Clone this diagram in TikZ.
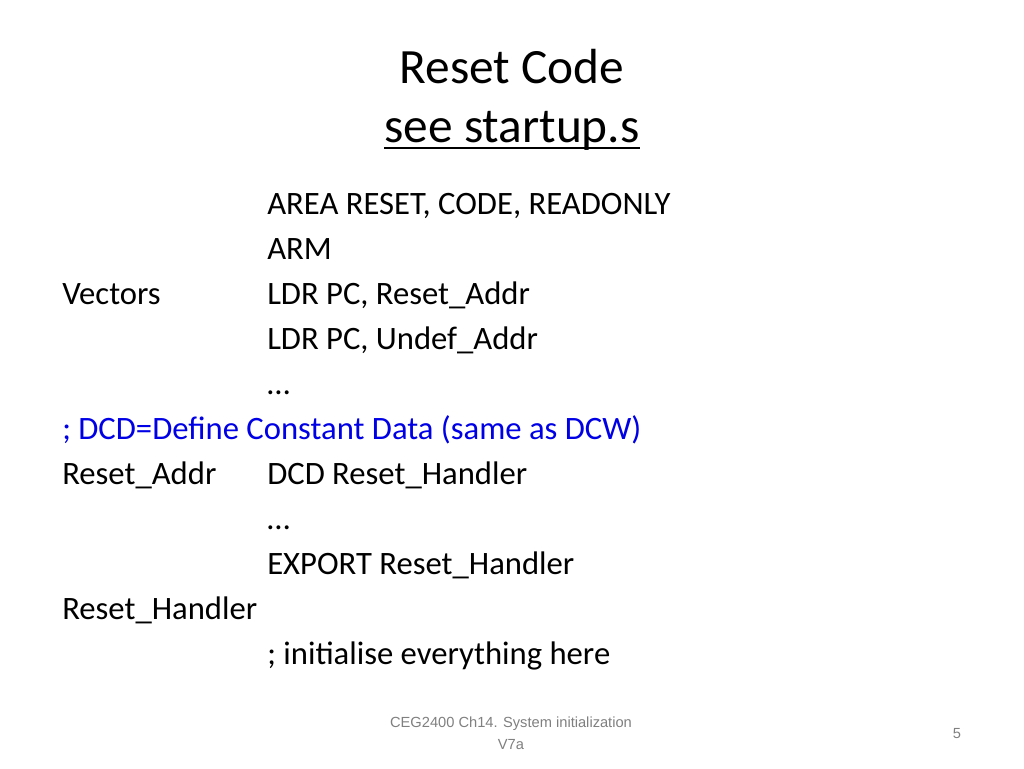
\documentclass[tikz,border=0pt]{standalone}
\usepackage{fontspec}
\usetikzlibrary{calc}
\setmainfont{Carlito}
\newfontfamily\foot{Liberation Sans}
\begin{document}
\begin{tikzpicture}[x=0.75pt,y=-0.75pt,
  body/.style={anchor=base west,inner sep=0pt,font=\fontsize{24.5}{28}\selectfont},
  ttl/.style={anchor=base,inner sep=0pt,font=\fontsize{37}{44}\selectfont},
  ft/.style={anchor=base,inner sep=0pt,font=\foot\fontsize{11}{13}\selectfont,text=gray}]
\useasboundingbox (0,0) rectangle (1024,768);
\fill[white] (0,0) rectangle (1024,768);
\node[ttl] (t1) at (512,83) {Reset Code};
\node[ttl] (t2) at (512,142) {see startup.s};
\draw[line width=1.4pt] ($(t2.base west)+(0,6)$) -- ($(t2.base east)+(0,6)$);
\foreach \n/\y/\t in {a/214/{AREA RESET, CODE, READONLY},b/259/ARM,c/304/{LDR PC, Reset\_Addr},d/349/{LDR PC, Undef\_Addr},e/394/…,g/484/{DCD Reset\_Handler},h/529/…,i/574/{EXPORT Reset\_Handler},k/664/{; initialise everything here}}
  \node[body] (\n) at (267,\y) {\t};
\node[body] (v) at (62,304) {Vectors};
\node[body,text={rgb,255:red,0;green,0;blue,230}] (f) at (62,439) {; DCD=Define Constant Data (same as DCW)};
\node[body] (ra) at (62,484) {Reset\_Addr};
\node[body] (rh) at (62,619) {Reset\_Handler};
\node[ft] (f1) at (511,727) {CEG2400 Ch14. System initialization};
\node[ft] (f2) at (511,749) {V7a};
\node[ft] (pg) at (957,738) {5};
\end{tikzpicture}
\end{document}
